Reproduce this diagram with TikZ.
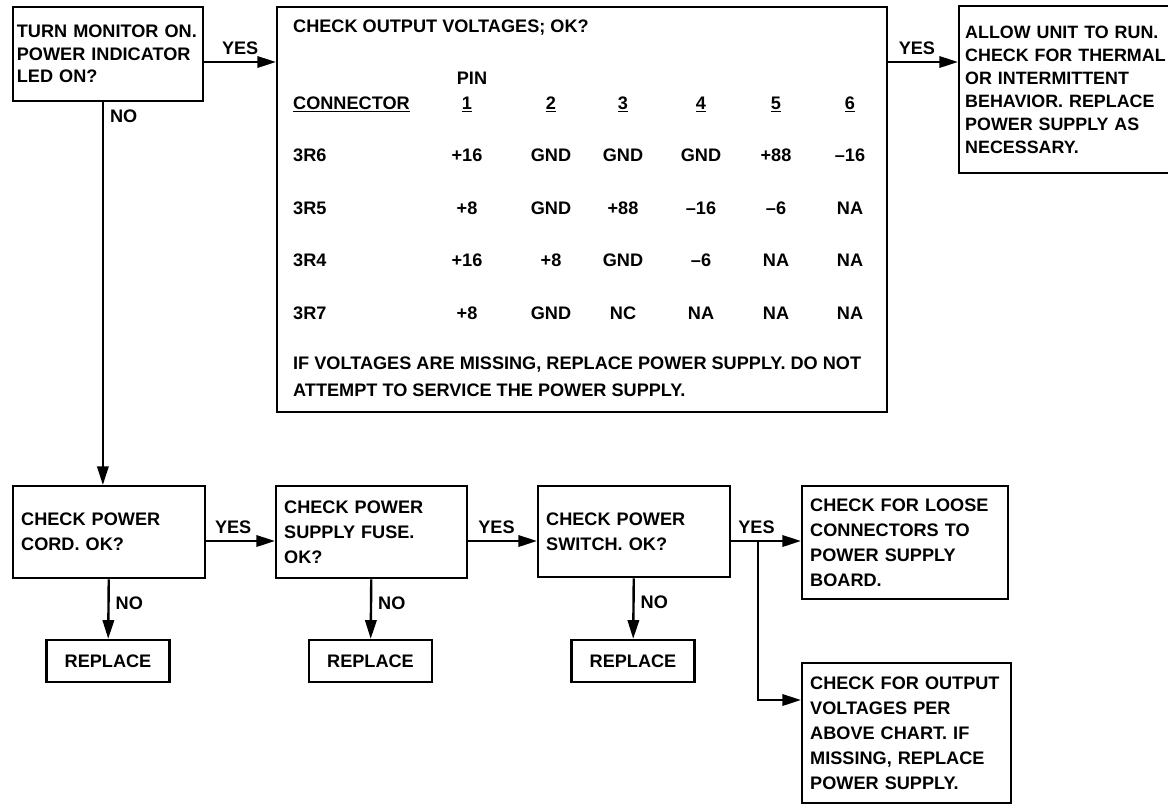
\documentclass[tikz,border=0pt]{standalone}
\usepackage{fontspec}
\setmainfont{Liberation Sans}
\usetikzlibrary{arrows.meta}

\newcommand{\chartfont}{\fontsize{13.6}{18.75}\selectfont\bfseries}

\begin{document}
\begin{tikzpicture}[x=0.75pt, y=-0.75pt, font=\chartfont, line width=1.8pt,
  box/.style={draw, anchor=north west, align=left, inner xsep=6pt, inner ysep=0pt},
  repl/.style={draw, minimum width=92.25pt, minimum height=31.5pt, inner sep=0pt},
  cell/.style={inner sep=0pt},
  lbl/.style={inner sep=4.5pt},
  >={Triangle[length=14pt, width=8.5pt]}]
\fill[white] (0,0) rectangle (1168,804);
\useasboundingbox (0,0) rectangle (1168,804);

\node[box, inner xsep=2.75pt, text width=137pt, minimum height=70.5pt,
  font=\fontsize{13.6}{16.9}\selectfont\bfseries] (led) at (12,6) {TURN MONITOR ON.\\POWER INDICATOR\\LED ON?};
\node[box, minimum width=457.5pt, minimum height=303.75pt] (volts) at (276,6) {};
\node[box, inner xsep=4.5pt, text width=157.5pt, minimum height=125.25pt,
  font=\fontsize{13.4}{17.25}\selectfont\bfseries] (run) at (958,5) {ALLOW UNIT TO RUN.\\CHECK FOR THERMAL\\OR INTERMITTENT\\BEHAVIOR. REPLACE\\POWER SUPPLY AS\\NECESSARY.};

% output voltage chart
\node[cell, anchor=base west] (title) at (292,32.5) {CHECK OUTPUT VOLTAGES; OK?};
\node[cell, anchor=base] (pin) at (472,84.5) {PIN};
\node[cell, anchor=base west] (conn) at (292,109.5) {\underline{CONNECTOR}};
\foreach \x/\n in {467/1, 551/2, 623/3, 701/4, 776/5, 850/6}
  \node[cell, anchor=base] (pin\n) at (\x,109.5) {\underline{\n}};
\foreach \yy/\cname/\pa/\pb/\pc/\pd/\pe/\pf [count=\i] in {
    161.5/3R6/+16/GND/GND/GND/+88/--16,
    214.5/3R5/+8/GND/+88/--16/--6/NA,
    266.5/3R4/+16/+8/GND/--6/NA/NA,
    319.5/3R7/+8/GND/NC/NA/NA/NA} {
  \node[cell, anchor=base west] (row\i) at (292,\yy) {\cname};
  \foreach \x/\v [count=\j] in {467/\pa, 551/\pb, 623/\pc, 701/\pd, 776/\pe, 850/\pf}
    \node[cell, anchor=base] (val\i\j) at (\x,\yy) {\v};
}
\node[cell, anchor=base west] (foot1) at (292,369.5) {IF VOLTAGES ARE MISSING, REPLACE POWER SUPPLY. DO NOT};
\node[cell, anchor=base west] (foot2) at (292,396.5) {ATTEMPT TO SERVICE THE POWER SUPPLY.};

\node[box, text width=132pt, minimum height=69pt] (cord) at (12,485) {CHECK POWER\\CORD. OK?};
\node[box, text width=131.25pt, minimum height=69pt] (fuse) at (275,485) {CHECK POWER\\SUPPLY FUSE.\\OK?};
\node[box, text width=132pt, minimum height=68.25pt] (switch) at (537,485) {CHECK POWER\\SWITCH. OK?};
\node[box, text width=142.5pt, minimum height=84.75pt] (loose) at (801,485) {CHECK FOR LOOSE\\CONNECTORS TO\\POWER SUPPLY\\BOARD.};
\node[box, text width=144.75pt, minimum height=105pt] (chart) at (801,662) {CHECK FOR OUTPUT\\VOLTAGES PER\\ABOVE CHART. IF\\MISSING, REPLACE\\POWER SUPPLY.};

\node[repl] (rcord) at (108,661) {REPLACE};
\node[repl] (rfuse) at (370.5,661) {REPLACE};
\node[repl] (rswitch) at (633,661) {REPLACE};

\coordinate (toprow) at (0,62);
\coordinate (lowrow) at (0,541);
\coordinate (split) at (758,541);
\coordinate (lowbranch) at (0,700);

\draw[->] (led.east |- toprow) -- node[lbl, pos=.5, above] {YES} (volts.west |- toprow);
\draw[->] (volts.east |- toprow) -- node[lbl, pos=.41, above] {YES} (run.west |- toprow);
\draw[->] ([xshift=-4pt]led.south) -- node[lbl, pos=.035, right] {NO} ([xshift=-4pt]led.south |- cord.north);
\draw[->] (cord.east |- lowrow) -- node[lbl, pos=.39, above] {YES} (fuse.west |- lowrow);
\draw[->] (fuse.east |- lowrow) -- node[lbl, pos=.41, above] {YES} (switch.west |- lowrow);
\draw[->] (switch.east |- lowrow) -- node[lbl, pos=.36, above] {YES} (loose.west |- lowrow);
\draw[->] (split) |- (chart.west |- lowbranch);
\draw[->] (cord) -- node[lbl, pos=.4, right] {NO} (rcord);
\draw[->] (fuse) -- node[lbl, pos=.4, right] {NO} (rfuse);
\draw[->] (switch) -- node[lbl, pos=.4, right] {NO} (rswitch);
\end{tikzpicture}
\end{document}
